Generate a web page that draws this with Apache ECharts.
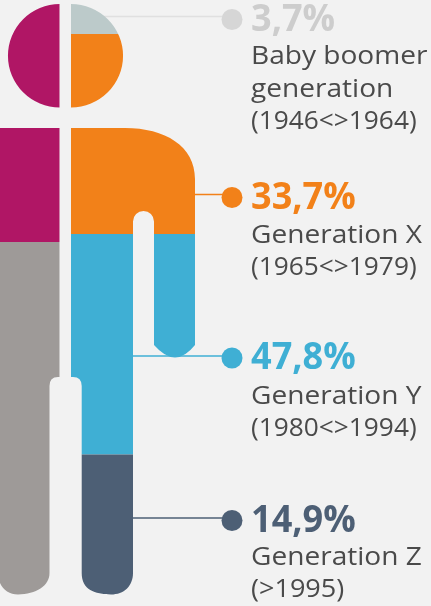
<!DOCTYPE html>
<html><head><meta charset="utf-8">
<style>html,body{margin:0;padding:0;background:#f2f2f2}#c{width:431px;height:606px}</style>
<script src="https://cdn.jsdelivr.net/npm/echarts@6/dist/echarts.min.js"></script></head>
<body><div id="c"></div>
<script>
// --- data ---
const generations = ['Baby boomer generation', 'Generation X', 'Generation Y', 'Generation Z'];
const shareLabels = ['3,7%', '33,7%', '47,8%', '14,9%'];
const labelLines = [['Baby boomer', 'generation', '(1946<>1964)'], ['Generation X', '(1965<>1979)'], ['Generation Y', '(1980<>1994)'], ['Generation Z', '(>1995)']];
const rightBandHeights = [30, 200, 220.5, 140.5];
const leftBandHeights = [238, 353];
// --- styles and layout ---
const genColors = ['#bccaca', '#f28119', '#3fafd4', '#4d5f75'];
const textColors = ['#cdcdcd', '#f28119', '#3fafd4', '#4d5f75'];
const dotColors = ['#d6d6d6', '#f28119', '#3fafd4', '#4d5f75'];
const lineColors = ['#e0e0e0', '#f28119', '#3fafd4', '#4d5f75'];
const leftColors = ['#b01665', '#9e9a98'];
const silhouetteTop = 4;
const leftRange = [0, 59.7], rightRange = [71, 200];
const leaderY = [16.5, 194.5, 356, 518];
const leaderStart = [100, 194, 132, 132];
const dotX = 232, dotY = [19.5, 197.5, 358, 520.5];
const textX = 251;
const shareY = [20, 198.5, 358, 521];
const shareScale = 0.95;
const lineY = [[57, 90, 122], [236, 268], [397, 429], [558, 590]];
const lineScale = [[1.08, 1.08, 1.01], [1.08, 1.01], [1.08, 1.01], [1.08, 1.04]];
const silhouette =
  'M59.7 4 A51.7 51.7 0 0 0 59.7 107.5 Z ' +
  'M71 4 A52 51.7 0 0 1 71 107.5 Z ' +
  'M0 128 H59.7 V377 H58 Q49.5 377 49.5 386 V573 C49.5 586 36 594 18 594.5 C10 594.5 3 590 0 583 Z ' +
  'M71 128 H125 C165 128 195 146 195 179 V345 Q185 357.5 175 357.5 Q165 357.5 154 345 V221.5 A10.5 10.5 0 0 0 133 221.5 V573 C133 586 124 594.5 111 594.5 C95 594 81.7 590 81.7 573 V386 Q81.7 377 73 377 H71 Z';

function bands(heights, colors, range) {
  let y = silhouetteTop;
  return heights.map((h, i) => { const r = [range[0], range[1], y, y + h, colors[i]]; y += h; return r; });
}
const bandData = bands(rightBandHeights, genColors, rightRange).concat(bands(leftBandHeights, leftColors, leftRange));

const textData = [];
shareLabels.forEach((s, i) => {
  textData.push([textX, shareY[i], s, textColors[i], 'bold 38px "Open Sans"', shareScale]);
  labelLines[i].forEach((l, j) => textData.push([textX, lineY[i][j], l, '#4a4a4a', '26px "Open Sans"', lineScale[i][j]]));
});

const leaderSeries = generations.map((g, i) => ({
  type: 'line', name: g, silent: true, symbol: 'none', z: 1, animation: false,
  lineStyle: { color: lineColors[i], width: 1.5 },
  data: [[leaderStart[i], leaderY[i]], [dotX, leaderY[i]]]
}));

const chart = echarts.init(document.getElementById('c'));
chart.setOption({
  backgroundColor: '#f2f2f2',
  animation: false,
  grid: { left: 0, right: 0, top: 0, bottom: 0 },
  xAxis: { type: 'value', min: 0, max: 431, show: false },
  yAxis: { type: 'value', min: 0, max: 606, inverse: true, show: false },
  series: leaderSeries.concat([
    {
      type: 'custom', z: 2, silent: true, clip: false,
      data: bandData,
      encode: { x: [0, 1], y: [2, 3] },
      renderItem(params, api) {
        const p0 = api.coord([api.value(0), api.value(2)]);
        const p1 = api.coord([api.value(1), api.value(3)]);
        return {
          type: 'rect',
          shape: { x: p0[0], y: p0[1], width: p1[0] - p0[0], height: p1[1] - p0[1] },
          style: { fill: bandData[params.dataIndex][4] },
          clipPath: { type: 'path', shape: { pathData: silhouette, x: 0, y: 4, width: 195, height: 590.5, layout: 'cover' } }
        };
      }
    },
    {
      type: 'scatter', z: 3, silent: true, symbol: 'circle', symbolSize: 21,
      data: dotY.map((y, i) => ({ value: [dotX, y], itemStyle: { color: dotColors[i], opacity: 1 } }))
    },
    {
      type: 'custom', z: 4, silent: true, clip: false,
      data: textData.map(t => [t[0], t[1]]),
      renderItem(params, api) {
        const p = api.coord([api.value(0), api.value(1)]);
        const t = textData[params.dataIndex];
        return { type: 'text', x: p[0], y: p[1], scaleX: t[5], style: { text: t[2], fill: t[3], font: t[4], textAlign: 'left', textVerticalAlign: 'middle' } };
      }
    }
  ])
});
</script></body></html>
